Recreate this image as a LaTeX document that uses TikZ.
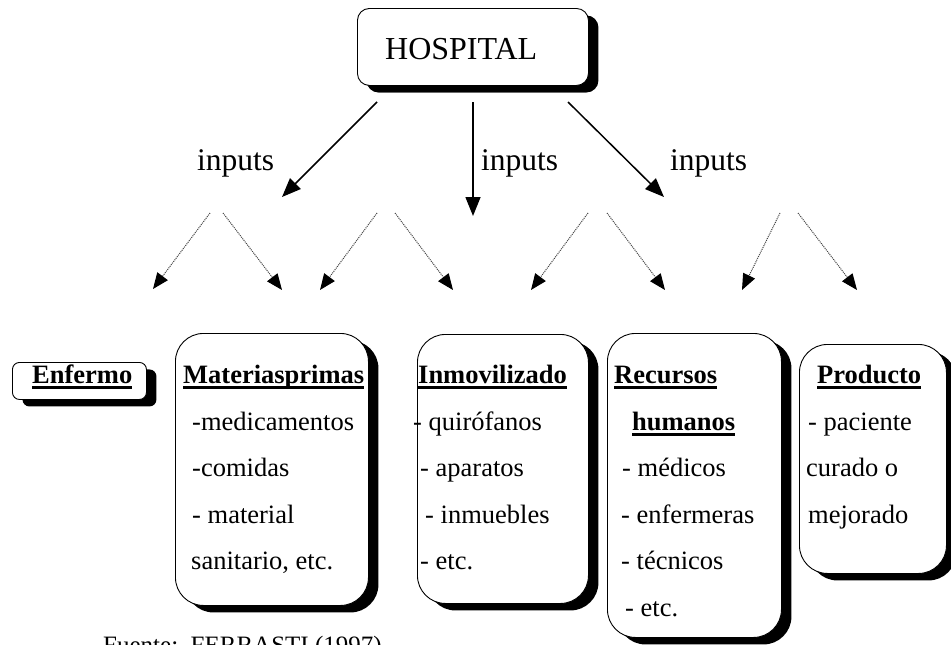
\documentclass[tikz,border=0pt]{standalone}
\usepackage{fontspec}
\setmainfont{Liberation Serif}
\usetikzlibrary{arrows.meta,shadows}
\newcommand\myul[1]{\setbox0\hbox{\bfseries #1}\rlap{\usebox0}\rule[-6pt]{\wd0}{2.6pt}}
\tikzset{
  box/.style={draw=black, line width=0.9pt, fill=white, anchor=north west, inner sep=0pt,
    drop shadow={shadow xshift=10pt, shadow yshift=-7pt, fill=black, opacity=1}},
  txt/.style={anchor=base west, inner sep=0pt, font=\fontsize{26.5}{30}\selectfont},
  bigtxt/.style={anchor=base west, inner sep=0pt, font=\fontsize{31.5}{36}\selectfont},
  solidarrow/.style={line width=1.5pt, -{Triangle[length=19pt,width=15pt]}},
  dotarrow/.style={line width=1pt, draw=black!75, dash pattern=on 1pt off 1pt,
    -{Triangle[length=16pt,width=13pt,color=black]}},
}
\begin{document}
\begin{tikzpicture}[x=1pt,y=-1pt]
\clip (0,0) rectangle (951,645);
\fill[white] (0,0) rectangle (951,645);

% boxes
\node[box, rounded corners=12pt, minimum width=231pt, minimum height=77pt,
  drop shadow={shadow xshift=9pt, shadow yshift=-7pt, fill=black, opacity=1}] (hosp) at (357,8) {};
\node[box, rounded corners=7pt, minimum width=134pt, minimum height=37pt] (enf) at (12,362) {};
\node[box, rounded corners=28pt, minimum width=193pt, minimum height=272pt] (mat) at (175,333) {};
\node[box, rounded corners=28pt, minimum width=171pt, minimum height=269pt] (inm) at (417,334) {};
\node[box, rounded corners=28pt, minimum width=174pt, minimum height=304pt] (rec) at (607,333) {};
\node[box, rounded corners=28pt, minimum width=147pt, minimum height=229pt] (prod) at (799,344) {};

% HOSPITAL text
\node[anchor=base west, inner sep=0pt, font=\fontsize{32}{36}\selectfont] (hosptxt) at (385,59) {HOSPITAL};

% inputs labels
\node[bigtxt] (in1) at (197,170) {inputs};
\node[bigtxt] (in2) at (481,170) {inputs};
\node[bigtxt] (in3) at (670,170) {inputs};

% solid arrows
\coordinate (s1) at (377,102); \coordinate (e1) at (282,197);
\coordinate (s2) at (473,102); \coordinate (e2) at (473,216);
\coordinate (s3) at (568,102); \coordinate (e3) at (664,197);
\draw[solidarrow] (s1) -- (e1);
\draw[solidarrow] (s2) -- (e2);
\draw[solidarrow] (s3) -- (e3);

% dotted arrows
\coordinate (a1) at (210,213); \coordinate (b1) at (153,289);
\coordinate (a2) at (223,213); \coordinate (b2) at (282,290);
\coordinate (a3) at (377,213); \coordinate (b3) at (320,290);
\coordinate (a4) at (395,213); \coordinate (b4) at (453,290);
\coordinate (a5) at (588,213); \coordinate (b5) at (531,290);
\coordinate (a6) at (607,213); \coordinate (b6) at (665,290);
\coordinate (a7) at (780,213); \coordinate (b7) at (742,290);
\coordinate (a8) at (798,213); \coordinate (b8) at (857,290);
\foreach \i in {1,...,8} { \draw[dotarrow] (a\i) -- (b\i); }

% Enfermo
\node[txt] (enftxt) at (32,383) {\myul{Enfermo}};

% Materias primas
\node[txt] (m0) at (183,383) {\myul{Materiasprimas}};
\node[txt] (m1) at (192,430) {-medicamentos};
\node[txt] (m2) at (192,476.5) {-comidas};
\node[txt] (m3) at (192,523) {- material};
\node[txt] (m4) at (191,569.5) {sanitario, etc.};

% Inmovilizado
\node[txt] (i0) at (418,383) {\myul{Inmovilizado}};
\node[txt] (i1) at (413,430) {- quirófanos};
\node[txt] (i2) at (420,476.5) {- aparatos};
\node[txt] (i3) at (425,523) {- inmuebles};
\node[txt] (i4) at (420,569.5) {- etc.};

% Recursos humanos
\node[txt] (r0) at (614,383) {\myul{Recursos}};
\node[txt] (r1) at (632,430) {\myul{humanos}};
\node[txt] (r2) at (622,476.5) {- médicos};
\node[txt] (r3) at (621,523) {- enfermeras};
\node[txt] (r4) at (621,569.5) {- técnicos};
\node[txt] (r5) at (625,616) {- etc.};

% Producto
\node[txt] (p0) at (817,383) {\myul{Producto}};
\node[txt] (p1) at (808,430) {- paciente};
\node[txt] (p2) at (806,476.5) {curado o};
\node[txt] (p3) at (808,523) {mejorado};

% footer (cut off at bottom edge)
\node[anchor=base west, inner sep=0pt, font=\fontsize{25}{30}\selectfont] (foot) at (103,653) {Fuente:\ \ FERRASTI (1997)};
\end{tikzpicture}
\end{document}
